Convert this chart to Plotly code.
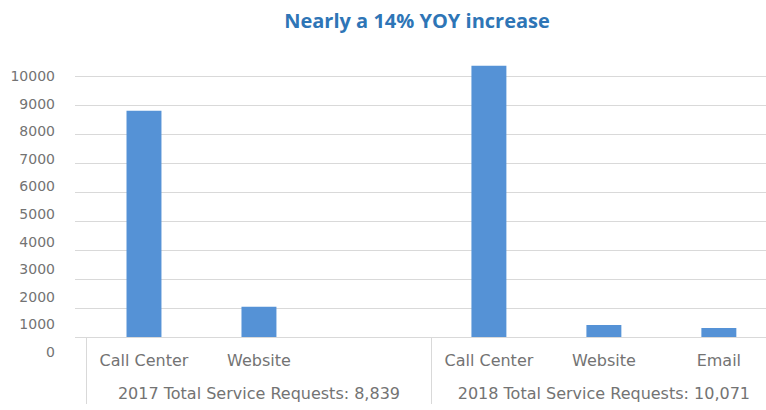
import plotly.graph_objects as go

# ---- data ----
groups = ["2017 Total Service Requests: 8,839"] * 3 + ["2018 Total Service Requests: 10,071"] * 3
channels = ["Call Center", "Website", " ", "Call Center", "Website", "Email"]
requests = [7800, 1039, None, 9350, 410, 311]
y_tick_values = [0, 1000, 2000, 3000, 4000, 5000, 6000, 7000, 8000, 9000, 10000]
y_tick_labels = [str(v) for v in y_tick_values]
title_text = "Nearly a 14% YOY increase"

W, H = 766, 410
plot_top, plot_bottom = 50, 352          # pixel rows of plot area
baseline_px = 337
label_top_px = 76
ph = plot_bottom - plot_top
y_dom0 = (plot_bottom - baseline_px) / ph
y2_top = (plot_bottom - label_top_px) / ph
px_per_k = (baseline_px - 76) / 9.0
y_max = (baseline_px - plot_top) / px_per_k * 1000

# primary labels get an empty second line so the group labels sit lower
channel_labels = [c + "<br>\u00a0" for c in channels]

fig = go.Figure()
fig.add_trace(go.Bar(
    x=[groups, channel_labels], y=requests,
    marker=dict(color="#5592D6", line=dict(width=0)),
    showlegend=False, hoverinfo="x+y",
))
# invisible trace to carry the label axis
fig.add_trace(go.Scatter(
    x=[[groups[0]], [channel_labels[0]]], y=[0], yaxis="y2",
    mode="markers", marker=dict(opacity=0, size=1),
    showlegend=False, hoverinfo="skip",
))

label_font = dict(family="DejaVu Sans", size=16, color="#737373")

fig.update_layout(
    width=W, height=H,
    margin=dict(l=75, r=0, t=plot_top, b=H - plot_bottom, autoexpand=False),
    paper_bgcolor="white", plot_bgcolor="rgba(0,0,0,0)",
    bargap=0.696,
    title=dict(text=f"<b>{title_text}</b>", x=417 / W, xref="container", xanchor="center",
               y=1 - 21 / H, yref="container", yanchor="middle",
               font=dict(family="Open Sans", size=20, color="#2E75B6")),
    xaxis=dict(
        type="multicategory", anchor="y",
        range=[-0.6, 5.41],
        showline=True, linecolor="#D9D9D9", linewidth=1,
        showgrid=False, zeroline=False,
        showdividers=True, dividercolor="#D9D9D9", dividerwidth=1,
        tickfont=label_font, ticklabelstandoff=9,
        automargin=False,
    ),
    yaxis=dict(
        domain=[y_dom0, 1], range=[0, y_max],
        tickmode="linear", tick0=0, dtick=1000,
        showgrid=True, gridcolor="#D9D9D9", gridwidth=1,
        zeroline=False, showline=False, showticklabels=False,
        automargin=False,
    ),
    yaxis2=dict(
        domain=[0, y2_top], range=[0, 10000], anchor="free", position=0,
        tickmode="array", tickvals=y_tick_values, ticktext=y_tick_labels,
        showgrid=False, zeroline=False, showline=False,
        tickfont=dict(family="DejaVu Sans", size=14, color="#737373"),
        ticklabelstandoff=20, automargin=False,
    ),
)

fig.write_html("out.html", config={"displayModeBar": False},
               post_script="document.body.style.margin='0';")
